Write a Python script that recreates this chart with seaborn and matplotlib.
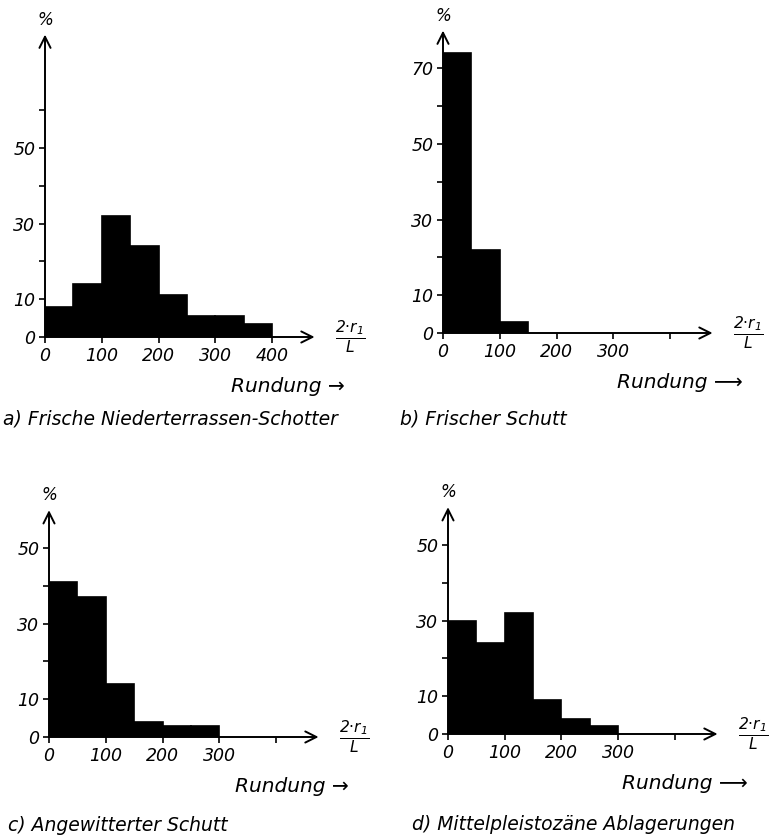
import matplotlib.pyplot as plt
import seaborn as sns

W, H = 774, 838

# Rundung classes (2·r1/L), 50 wide; values in percent
edges_a = [0, 50, 100, 150, 200, 250, 300, 350, 400]
pct_a = [8, 14, 32, 24, 11, 5.5, 5.5, 3.5]

edges_b = [0, 50, 100, 150]
pct_b = [74, 22, 3]

edges_c = [0, 50, 100, 150, 200, 250, 300]
pct_c = [41, 37, 14, 4, 3, 3]

edges_d = [0, 50, 100, 150, 200, 250, 300]
pct_d = [30, 24, 32, 9, 4, 2]

xticks = [0, 100, 200, 300, 400]
xlabels_a = ["0", "100", "200", "300", "400"]
xlabels_bcd = ["0", "100", "200", "300", ""]

yticks_a = [0, 10, 20, 30, 40, 50, 60]
ylabels_a = ["0", "10", "", "30", "", "50", ""]
yticks_b = [0, 10, 20, 30, 40, 50, 60, 70]
ylabels_b = ["0", "10", "", "30", "", "50", "", "70"]
yticks_cd = [0, 10, 20, 30, 40, 50]
ylabels_cd = ["0", "10", "", "30", "", "50"]

captions = [
    "a) Frische Niederterrassen-Schotter",
    "b) Frischer Schutt",
    "c) Angewitterter Schutt",
    "d) Mittelpleistozäne Ablagerungen",
]
arrow_texts = ["Rundung \u2192", "Rundung \u27f6", "Rundung \u2192", "Rundung \u27f6"]

sns.set_style("white")
plt.rcParams["font.family"] = ["DejaVu Sans"]
plt.rcParams["font.style"] = "italic"
plt.rcParams["text.color"] = "black"
plt.rcParams["xtick.color"] = "black"
plt.rcParams["ytick.color"] = "black"
plt.rcParams["mathtext.fontset"] = "custom"
plt.rcParams["mathtext.rm"] = "DejaVu Sans:italic"
plt.rcParams["mathtext.it"] = "DejaVu Sans:italic"

XMAX = 475
PX_X = 0.5675  # px per x unit
PX_Y = 3.78    # px per y unit

fig = plt.figure(figsize=(W / 100, H / 100), dpi=100)

# (left px of x=0, px row of y=0, ymax, caption x px, caption y px)
layout = [
    (45, 337, 80, 3, 419),
    (443, 333, 80, 400, 419),
    (49, 737, 60, 8, 825),
    (448, 734, 60, 412, 824),
]
panels = [
    (edges_a, pct_a, yticks_a, ylabels_a, xlabels_a),
    (edges_b, pct_b, yticks_b, ylabels_b, xlabels_bcd),
    (edges_c, pct_c, yticks_cd, ylabels_cd, xlabels_bcd),
    (edges_d, pct_d, yticks_cd, ylabels_cd, xlabels_bcd),
]

for i, ((edges, pct, yt, yl, xl), (x0, y0, ymax, cx, cy)) in enumerate(zip(panels, layout)):
    w = XMAX * PX_X
    h = ymax * PX_Y
    ax = fig.add_axes([x0 / W, (H - y0) / H, w / W, h / H])
    centers = [(lo + hi) / 2 for lo, hi in zip(edges[:-1], edges[1:])]
    sns.histplot(x=centers, weights=pct, bins=edges, color="black",
                 alpha=1, edgecolor="black", linewidth=1.2, ax=ax)
    ax.set_xlim(0, XMAX)
    ax.set_ylim(0, ymax)
    ax.set_xlabel("")
    ax.set_ylabel("")
    sns.despine(ax=ax, left=True, bottom=True)
    ax.set_xticks(xticks)
    ax.set_xticklabels(xl, fontsize=12.5)
    ax.set_yticks(yt)
    ax.set_yticklabels(yl, fontsize=12.5)
    ax.tick_params(bottom=True, left=True, direction="out", length=4,
                   width=1.2, pad=3, colors="black")

    arrow = dict(arrowstyle="->", lw=1.4, color="black",
                 shrinkA=0, shrinkB=0, mutation_scale=20)
    ax.annotate("", xy=(XMAX, 0), xytext=(0, 0), arrowprops=arrow,
                annotation_clip=False)
    ax.annotate("", xy=(0, ymax), xytext=(0, 0), arrowprops=arrow,
                annotation_clip=False)

    ax.text(0, ymax + 15 / PX_Y, "%", ha="center", va="center", fontsize=12)
    ax.text(538, 0, r"$\frac{2{\cdot}r_1}{L}$", ha="center", va="center",
            fontsize=16, clip_on=False)
    ax.text(528, -13, arrow_texts[i], ha="right", va="center",
            fontsize=14.5, clip_on=False)

    fig.text(cx / W, 1 - cy / H, captions[i], ha="left", va="center",
             fontsize=13.5)

fig.savefig("out.png", dpi=100, facecolor="white")
